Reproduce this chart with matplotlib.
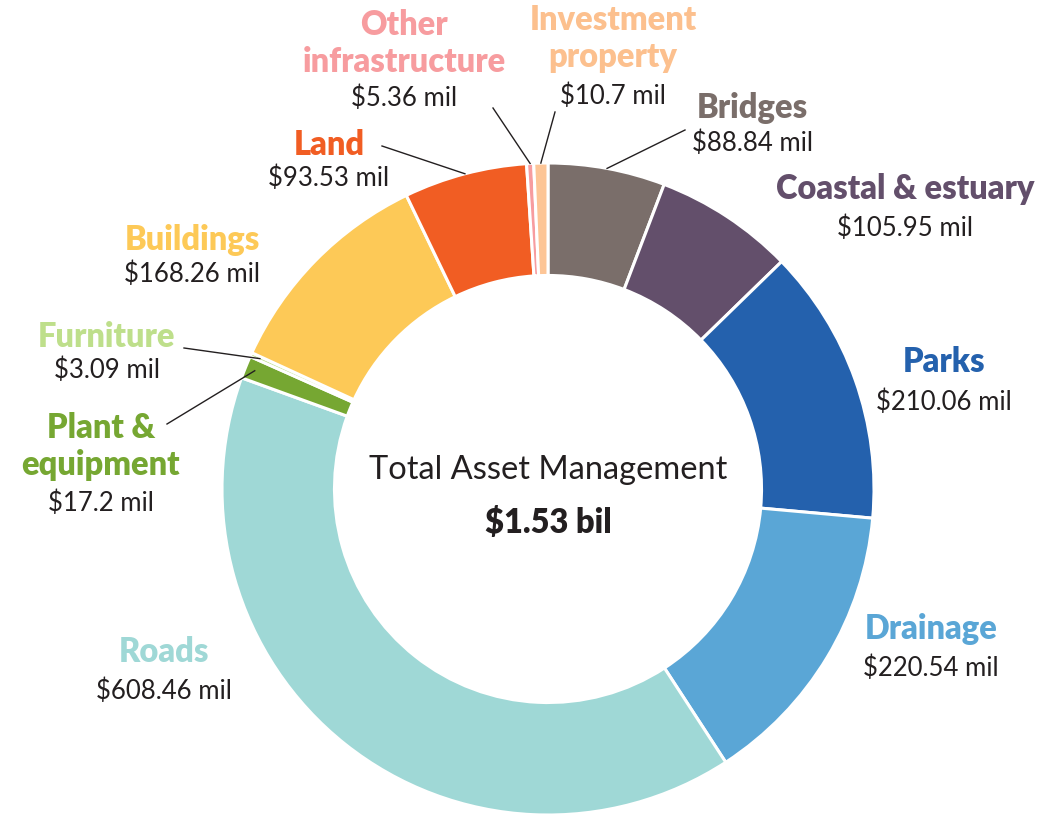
import matplotlib.pyplot as plt
import numpy as np

plt.rcParams['font.family'] = ['Lato', 'DejaVu Sans']

categories = ['Bridges', 'Coastal & estuary', 'Parks', 'Drainage', 'Roads',
              'Plant &\nequipment', 'Furniture', 'Buildings', 'Land',
              'Other\ninfrastructure', 'Investment\nproperty']
values = [88.84, 105.95, 210.06, 220.54, 608.46, 17.2, 3.09, 168.26, 93.53, 5.36, 10.7]
value_labels = ['$88.84 mil', '$105.95 mil', '$210.06 mil', '$220.54 mil', '$608.46 mil',
                '$17.2 mil', '$3.09 mil', '$168.26 mil', '$93.53 mil', '$5.36 mil', '$10.7 mil']
colors = ['#7a6e6a', '#634f6b', '#2461ad', '#5aa6d6', '#9fd8d6', '#76a732',
          '#bedf8b', '#fdc957', '#f15d23', '#f79c9f', '#fdc596']
total_label = '$1.53 bil'

W, H = 1061, 818
fig = plt.figure(figsize=(W / 100, H / 100), dpi=100)
ax = fig.add_axes([0, 0, 1, 1])
ax.set_xlim(0, W)
ax.set_ylim(0, H)
ax.axis('off')

cx, cy, R = 548, H - 489, 326
wedges, _ = ax.pie(values, colors=colors, startangle=90, counterclock=False,
                   center=(cx, cy), radius=R,
                   wedgeprops=dict(width=R * 0.345, edgecolor='white', linewidth=2.2))
ax.set_xlim(0, W)
ax.set_ylim(0, H)
ax.set_aspect('equal')

# label layout: (x centre, y of name top line in px, y of value in px)
layout = [(752, 108, 143), (905, 189, 228), (944, 362, 402), (931, 629, 668),
          (164, 652, 691), (101, 428, 503), (107, 337, 370), (192, 240, 274),
          (329, 145, 178), (404, 25, 98), (613, 20, 96)]
# leader lines: text end point (px) for the small / offset slices
leaders = {0: (685, 130), 5: (167, 424), 6: (184, 348), 8: (382, 146),
           9: (493, 108), 10: (555, 112)}

text_col = '#231f20'
for i, (w, (x, yn, yv)) in enumerate(zip(wedges, layout)):
    name_col = colors[i]
    if i == 10:
        name_col = '#fcc08e'
    lines = categories[i].split('\n')
    for k, ln in enumerate(lines):
        ax.text(x, H - (yn + k * 37), ln, ha='center', va='center',
                fontsize=23.5, fontweight='heavy', color=name_col)
    ax.text(x, H - yv, value_labels[i], ha='center', va='center',
            fontsize=18.5, color=text_col)
    if i in leaders:
        ang = np.deg2rad((w.theta1 + w.theta2) / 2)
        r_end = R * (0.97 if i in (5, 6) else 1.0)
        ex, ey = cx + r_end * np.cos(ang), cy + r_end * np.sin(ang)
        lx, ly = leaders[i]
        ax.plot([lx, ex], [H - ly, ey], color=text_col, lw=1.0)

ax.text(cx, H - 470, 'Total Asset Management', ha='center', va='center',
        fontsize=23.5, color=text_col)
ax.text(cx, H - 523, total_label, ha='center', va='center',
        fontsize=23.5, fontweight='heavy', color=text_col)

fig.savefig('out.png', dpi=100, facecolor='white')
